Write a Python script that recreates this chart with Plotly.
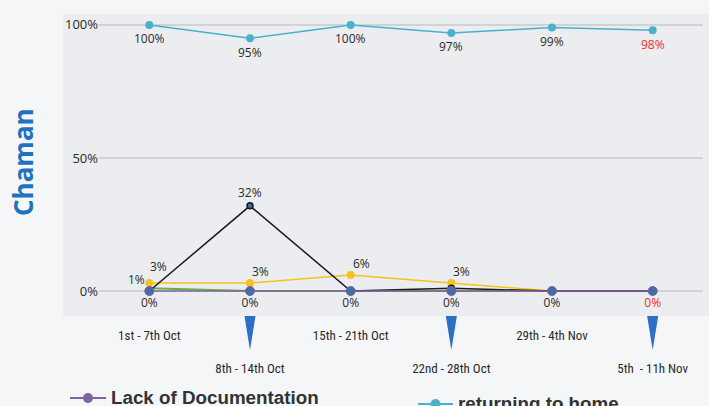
import plotly.graph_objects as go

categories = ["1st - 7th Oct", "8th - 14th Oct", "15th - 21th Oct",
              "22nd - 28th Oct", "29th - 4th Nov", "5th  - 11h Nov"]
returning_home = [100, 95, 100, 97, 99, 98]
yellow_series = [3, 3, 6, 3, 0, 0]
black_series = [0, 32, 0, 1, 0, 0]
green_series = [1, 0, 0, 0, 0, 0]
lack_documentation = [0, 0, 0, 0, 0, 0]
y_tick_vals = [0, 50, 100]
y_tick_text = ["0%", "50%", "100%"]
legend_names = ["Lack of Documentation", "returning to home"]

W, H = 709, 406
ML, MR, MT, MB = 99, 6, 14, 90
PW, PH = W - ML - MR, H - MT - MB


def px(x):
    return (x - ML) / PW


def py(y):
    return (H - MB - y) / PH


idx = list(range(len(categories)))
LBL = "Open Sans, sans-serif"
NARROW = "Liberation Sans Narrow, Roboto Condensed, Arial Narrow, sans-serif"
DARK = "#2b2b2b"
RED = "#e8302c"
PURPLE = "#8064a2"
TEAL = "#4bb0cc"

fig = go.Figure()

fig.add_trace(go.Scatter(x=idx, y=green_series, mode="lines",
                         line=dict(color="#70ad47", width=2), showlegend=False))
fig.add_trace(go.Scatter(x=idx, y=yellow_series, mode="lines+markers",
                         line=dict(color="#f7c11e", width=1.5),
                         marker=dict(color="#f7c11e", size=8), showlegend=False))
fig.add_trace(go.Scatter(x=idx, y=black_series, mode="lines+markers",
                         line=dict(color="#1a1a1a", width=1.5),
                         marker=dict(color="#3d6db0", size=6,
                                     line=dict(color="#1a1a1a", width=1.5)),
                         showlegend=False))
fig.add_trace(go.Scatter(x=idx, y=lack_documentation, mode="lines+markers+text",
                         line=dict(color=PURPLE, width=1.5),
                         marker=dict(color="#4a6aa6", size=9,
                                     line=dict(color="#6a66a6", width=1)),
                         text=[f"{v}%" for v in lack_documentation],
                         textposition="bottom center",
                         textfont=dict(family=LBL, size=12,
                                       color=[DARK] * 5 + [RED]),
                         showlegend=False))
fig.add_trace(go.Scatter(x=idx, y=returning_home, mode="lines+markers",
                         line=dict(color=TEAL, width=1.5),
                         marker=dict(color=TEAL, size=8),
                         showlegend=False))

annotations = []
for i, v in enumerate(returning_home):
    annotations.append(dict(x=i, y=v, text=f"{v}%", showarrow=False,
                            yshift=-14, xref="x", yref="y",
                            font=dict(family=LBL, size=12,
                                      color=RED if i == len(idx) - 1 else DARK)))
pk = black_series.index(max(black_series))
annotations.append(dict(x=pk, y=black_series[pk], text=f"{black_series[pk]}%",
                        showarrow=False, yshift=13, xref="x", yref="y",
                        font=dict(family=LBL, size=12, color=DARK)))
for i, v in enumerate(yellow_series[:4]):
    annotations.append(dict(x=i, y=v, text=f"{v}%", showarrow=False,
                            xanchor="left", xshift=0 if i else -1,
                            yshift=17 if i == 0 else 12,
                            xref="x", yref="y",
                            font=dict(family=LBL, size=12, color=DARK)))
annotations.append(dict(x=0, y=green_series[0], text=f"{green_series[0]}%",
                        showarrow=False, xanchor="right", xshift=-2, yshift=9,
                        xref="x", yref="y",
                        font=dict(family=LBL, size=12, color=DARK)))
annotations.append(dict(x=px(23), y=py(162), xref="paper", yref="paper",
                        text="<b>Chaman</b>", textangle=-90, showarrow=False,
                        xanchor="center", yanchor="middle",
                        font=dict(family="Open Sans, sans-serif", size=26,
                                  color="#1f72c2")))

# legend (drawn manually so it can sit at the page edge like the reference)
LEG_FONT = dict(family="Liberation Sans, Arial, sans-serif", size=18.8,
                color="#333333")
legend_spec = [(legend_names[0], PURPLE, 70, 106, 397),
               (legend_names[1], TEAL, 418, 453, 403)]
shapes = [dict(type="rect", xref="paper", yref="paper", x0=px(63), x1=px(712),
               y0=0, y1=1, fillcolor="#ecedf0", line=dict(width=0),
               layer="below")]
for name, col, xa, xb, yc in legend_spec:
    shapes.append(dict(type="line", xref="paper", yref="paper",
                       x0=px(xa), x1=px(xb), y0=py(yc + 1), y1=py(yc + 1),
                       line=dict(color=col, width=2)))
    shapes.append(dict(type="circle", xref="paper", yref="paper",
                       xsizemode="pixel", ysizemode="pixel",
                       xanchor=px((xa + xb) / 2), yanchor=py(yc + 1),
                       x0=-5, x1=5, y0=-5, y1=5,
                       fillcolor=col, line=dict(color=col, width=0)))
    annotations.append(dict(x=px(xb + 3), y=py(yc), xref="paper", yref="paper",
                            text=f"<b>{name}</b>", showarrow=False,
                            xanchor="left", yanchor="middle", font=LEG_FONT))

for i in idx[1::2]:
    shapes.append(dict(type="path", xref="x", yref="paper",
                       path=f"M {i-0.055},0 L {i+0.055},0 L {i},{py(350)} Z",
                       fillcolor="#2d6fc4", line=dict(width=0)))

ticktext = [c if i % 2 == 0 else "<br><br>" + c for i, c in enumerate(categories)]

fig.update_layout(
    width=W, height=H,
    margin=dict(l=ML, r=MR, t=MT, b=MB, autoexpand=False),
    paper_bgcolor="#f4f6f8", plot_bgcolor="#ecedf0",
    showlegend=False,
    xaxis=dict(range=[-0.5, 5.5], tickvals=idx, ticktext=ticktext,
               showgrid=False, zeroline=False, showline=False,
               ticks="outside", ticklen=7, tickcolor="rgba(0,0,0,0)",
               tickfont=dict(family=NARROW, size=13, color=DARK)),
    yaxis=dict(range=[-9.4, 104.1], tickvals=y_tick_vals, ticktext=y_tick_text,
               showgrid=True, gridcolor="#d2d3d5", gridwidth=1.5,
               zeroline=False, showline=False, ticks="",
               tickfont=dict(family=LBL, size=13, color=DARK)),
    annotations=annotations, shapes=shapes,
)

fig.write_html("out.html", config={"displayModeBar": False},
               post_script="document.body.style.margin='0';"
                           "document.body.style.background='#f4f6f8';")
